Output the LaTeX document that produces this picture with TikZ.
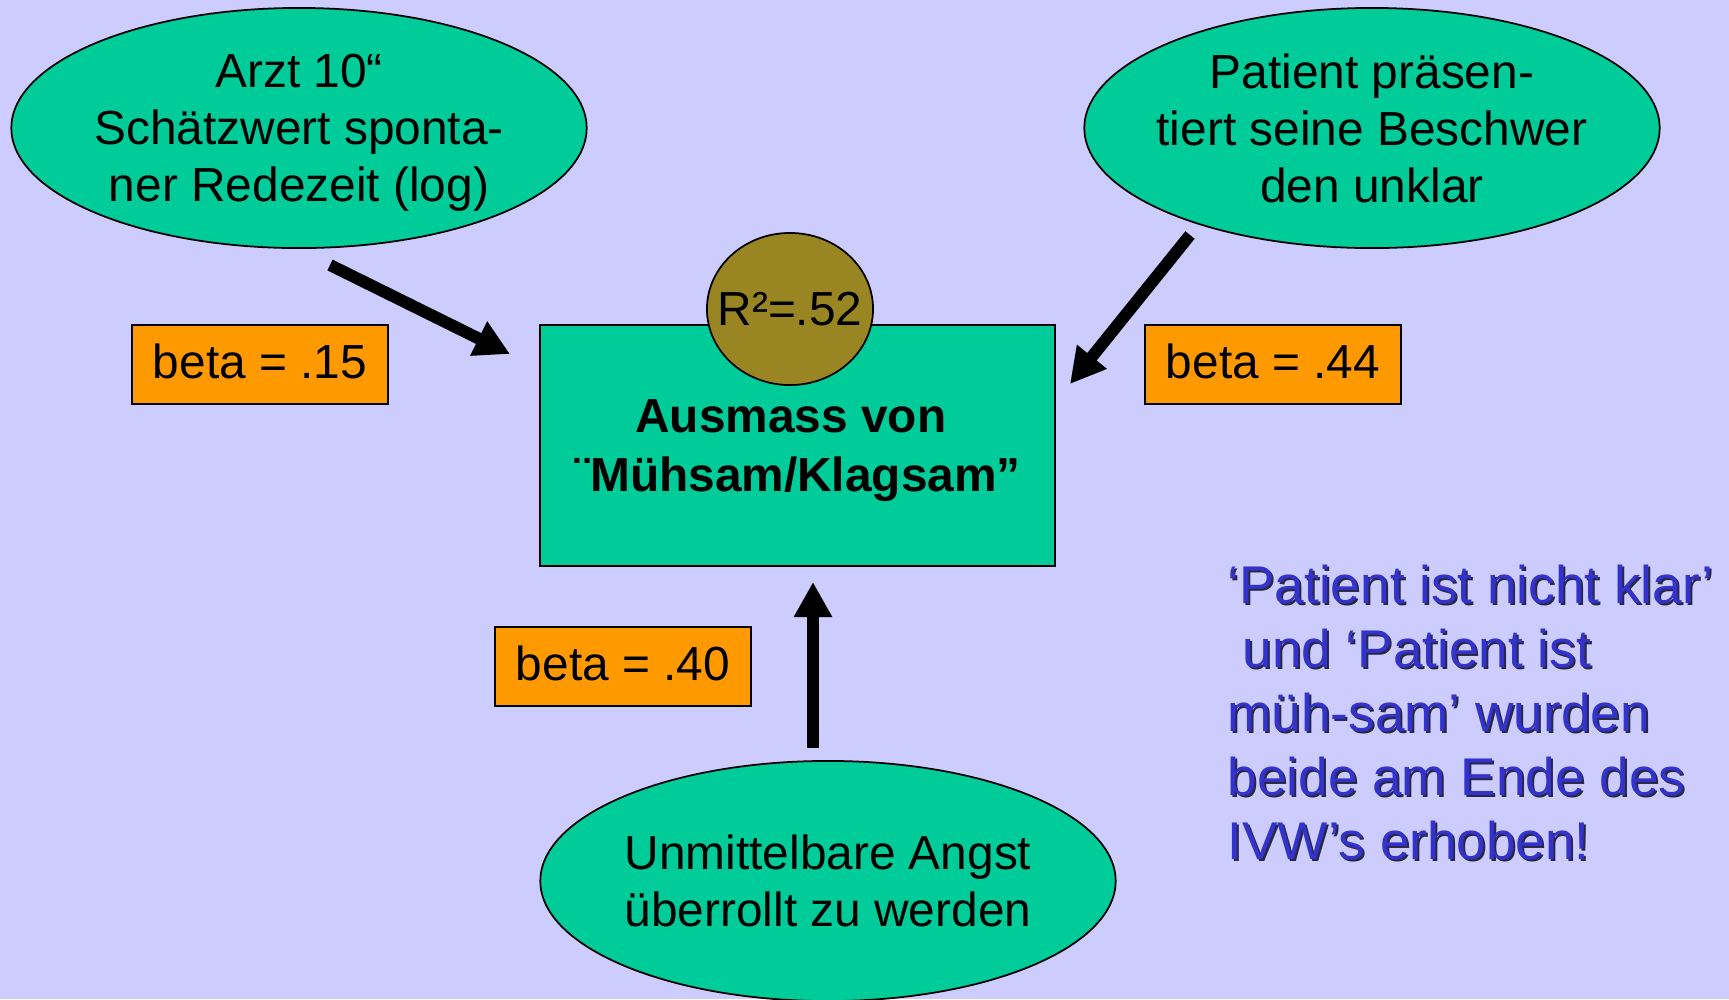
\documentclass[tikz,border=0pt]{standalone}
\usepackage{fontspec}
\setmainfont{Liberation Sans}
\usetikzlibrary{shapes.geometric,arrows.meta}
\definecolor{bg}{RGB}{204,204,255}
\definecolor{mint}{RGB}{0,204,153}
\definecolor{olivebrown}{RGB}{153,134,34}
\definecolor{betaorange}{RGB}{255,153,0}
\definecolor{remarkblue}{RGB}{51,51,204}
\definecolor{remarkshade}{RGB}{40,40,70}

\begin{document}
\begin{tikzpicture}[x=0.01cm, y=-0.01cm,
  oval/.style={ellipse, draw, fill=mint, line width=0.5pt, minimum width=5.75cm, minimum height=2.4cm, inner xsep=-0.6cm, inner ysep=-0.3cm, text depth=0pt, align=center, font=\fontsize{13.6}{16.2}\selectfont},
  betabox/.style={rectangle, draw, fill=betaorange, line width=0.5pt, minimum width=2.56cm, minimum height=0.79cm, inner sep=0pt, text depth=0.07cm, font=\fontsize{13.6}{16.2}\selectfont},
  arr/.style={line width=0.12cm, -{Triangle[length=0.35cm, width=0.36cm]}},
  remark/.style={anchor=north west, inner sep=0pt, align=left, font=\fontsize{15.1}{18.2}\selectfont}]
\useasboundingbox (0, 0) rectangle (1729, 999);
\fill[bg] (0, 0) rectangle (1729, 999);
\node(arzt) at (299, 128) [oval] {Arzt 10“\\Schätzwert sponta-\\ner Redezeit (log)};
\node(patient) at (1372, 128) [oval] {Patient präsen-\\tiert seine Beschwer\\den unklar};
\node(angst) at (828, 881) [oval] {Unmittelbare Angst\\überrollt zu werden};
\node(ausmass) at (797.5, 445.5) [rectangle, draw, fill=mint, line width=0.5pt, minimum width=5.15cm, minimum height=2.41cm, text depth=0pt, align=center, font=\fontsize{13.6}{16.9}\selectfont\bfseries] {Ausmass von\hspace*{0.28em}\\¨Mühsam/Klagsam”};
\node(rsq) at (790, 309) [ellipse, draw, fill=olivebrown, line width=0.5pt, minimum width=1.66cm, minimum height=1.52cm, inner sep=-0.4cm, font=\fontsize{13.6}{16.2}\selectfont] {R²=.52};
\node(beta1) at (260, 364.5) [betabox] {beta = .15};
\node(beta2) at (1273, 364.5) [betabox] {beta = .44};
\node(beta3) at (623, 666.5) [betabox] {beta = .40};
\node(remarkshadow) at (1229, 566) [remark, text=remarkshade] {‘Patient ist nicht klar’\\\hspace*{0.28em}und ‘Patient ist\\müh-sam’ wurden\\beide am Ende des\\IVW’s erhoben!};
\node(remarktext) at (1227, 564) [remark, text=remarkblue] {‘Patient ist nicht klar’\\\hspace*{0.28em}und ‘Patient ist\\müh-sam’ wurden\\beide am Ende des\\IVW’s erhoben!};
\coordinate(arztout) at (330, 265);
\coordinate(arztin) at (510, 354);
\coordinate(patientout) at (1190, 235);
\coordinate(patientin) at (1070, 384);
\coordinate(angstout) at (813, 748);
\coordinate(angstin) at (813, 582);
\draw[arr] (arztout) -- (arztin);
\draw[arr] (patientout) -- (patientin);
\draw[arr] (angstout) -- (angstin);
\end{tikzpicture}
\end{document}
